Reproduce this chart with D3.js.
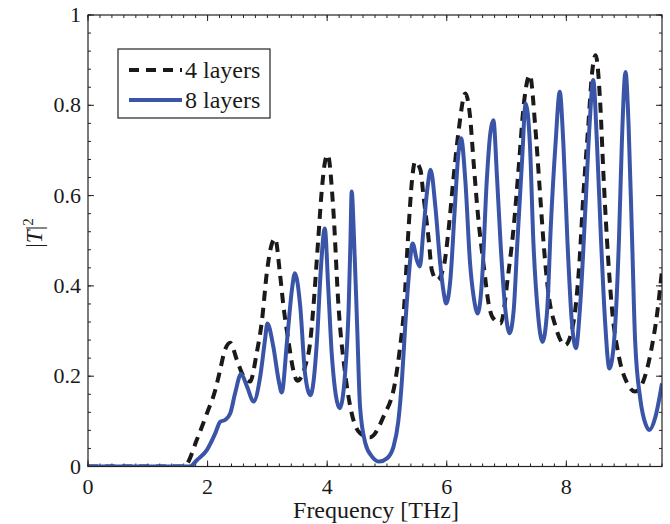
<!DOCTYPE html>
<html>
<head>
<meta charset="utf-8">
<script src="https://cdn.jsdelivr.net/npm/d3@7"></script>
<style>
  body { margin: 0; background: #fff; }
</style>
</head>
<body>
<svg id="chart" width="670" height="524" style="font-family: 'Liberation Serif', 'DejaVu Serif', serif;"></svg>
<script>
/*********************
	Data
**********************/
// |T|^2 vs frequency [THz]
var layers4 = [[0,0],[1.6,0],[1.65,0.005],[1.82,0.059],[1.99,0.118],[2.13,0.17],[2.21,0.214],[2.29,0.258],[2.38,0.274],
	[2.49,0.236],[2.6,0.2],[2.71,0.188],[2.82,0.25],[2.91,0.324],[2.99,0.428],[3.05,0.48],[3.13,0.505],[3.21,0.428],
	[3.27,0.354],[3.35,0.28],[3.44,0.21],[3.5,0.19],[3.63,0.221],[3.72,0.28],[3.77,0.354],[3.85,0.502],[3.91,0.612],
	[3.97,0.679],[4.01,0.69],[4.1,0.575],[4.19,0.354],[4.3,0.207],[4.41,0.118],[4.55,0.074],[4.72,0.065],[4.94,0.11],
	[5.14,0.19],[5.22,0.265],[5.28,0.34],[5.36,0.524],[5.42,0.635],[5.47,0.675],[5.56,0.657],[5.61,0.6],[5.7,0.5],
	[5.75,0.435],[5.84,0.413],[5.95,0.443],[6.03,0.524],[6.11,0.635],[6.2,0.745],[6.31,0.826],[6.39,0.775],[6.45,0.672],
	[6.53,0.546],[6.62,0.443],[6.7,0.361],[6.76,0.332],[6.9,0.317],[7.03,0.428],[7.12,0.531],[7.2,0.657],[7.29,0.804],
	[7.39,0.867],[7.48,0.753],[7.56,0.605],[7.62,0.494],[7.7,0.384],[7.82,0.31],[7.98,0.269],[8.12,0.32],[8.21,0.435],
	[8.29,0.612],[8.37,0.76],[8.43,0.871],[8.49,0.911],[8.57,0.797],[8.62,0.649],[8.68,0.502],[8.76,0.354],[8.88,0.243],
	[9.02,0.184],[9.15,0.166],[9.29,0.19],[9.43,0.265],[9.52,0.34],[9.6,0.435]];

var layers8 = [[0,0],[1.7,0],[1.82,0.014],[1.99,0.037],[2.13,0.074],[2.21,0.099],[2.29,0.103],[2.38,0.118],[2.46,0.162],
	[2.56,0.205],[2.66,0.177],[2.77,0.144],[2.88,0.199],[2.96,0.28],[3.0,0.317],[3.1,0.265],[3.19,0.19],[3.24,0.164],
	[3.33,0.28],[3.41,0.391],[3.46,0.428],[3.55,0.354],[3.63,0.206],[3.72,0.158],[3.83,0.28],[3.89,0.428],[3.96,0.527],
	[4.02,0.391],[4.08,0.243],[4.21,0.129],[4.3,0.206],[4.36,0.354],[4.39,0.502],[4.41,0.609],[4.45,0.502],[4.5,0.317],
	[4.55,0.132],[4.64,0.051],[4.75,0.022],[4.87,0.011],[5.0,0.018],[5.11,0.044],[5.19,0.1],[5.25,0.19],[5.3,0.3],
	[5.36,0.413],[5.43,0.494],[5.5,0.457],[5.55,0.443],[5.61,0.524],[5.68,0.62],[5.73,0.657],[5.81,0.575],[5.89,0.45],
	[5.95,0.384],[5.99,0.361],[6.06,0.413],[6.13,0.561],[6.19,0.686],[6.24,0.727],[6.31,0.635],[6.39,0.45],[6.45,0.376],
	[6.52,0.339],[6.59,0.413],[6.67,0.635],[6.73,0.74],[6.78,0.767],[6.84,0.642],[6.9,0.494],[6.98,0.347],[7.05,0.295],
	[7.12,0.347],[7.18,0.494],[7.26,0.679],[7.32,0.804],[7.39,0.716],[7.45,0.494],[7.52,0.347],[7.6,0.276],[7.68,0.347],
	[7.74,0.531],[7.82,0.716],[7.89,0.83],[7.95,0.716],[8.02,0.494],[8.09,0.324],[8.16,0.262],[8.23,0.354],[8.32,0.575],
	[8.39,0.76],[8.45,0.856],[8.51,0.723],[8.58,0.502],[8.65,0.317],[8.72,0.217],[8.8,0.28],[8.88,0.502],[8.93,0.723],
	[8.99,0.874],[9.04,0.76],[9.1,0.502],[9.15,0.28],[9.24,0.147],[9.32,0.096],[9.39,0.081],[9.49,0.11],[9.6,0.184]];

var x_ticks = [0, 2, 4, 6, 8];
var y_ticks = [0, 0.2, 0.4, 0.6, 0.8, 1];
var legend_labels = ["4 layers", "8 layers"];

/*********************
	Setup
**********************/
var margin = {left: 88, right: 8, top: 15, bottom: 57.5};
var width = 670 - margin.left - margin.right;
var height = 524 - margin.top - margin.bottom;
var text_color = "#1a1a1a";

var svg = d3.select("#chart");
var g = svg.append("g").attr("transform", "translate(" + margin.left + "," + margin.top + ")");

var x = d3.scaleLinear().domain([0, 9.6]).range([0, width]);
var y = d3.scaleLinear().domain([0, 1]).range([height, 0]);

svg.append("defs").append("clipPath").attr("id", "clip")
	.append("rect").attr("width", width).attr("height", height);

// minor + major ticks, inward, on all four sides
var x_minor = d3.range(0, 9.61, 0.2);
var y_minor = d3.range(0, 1.001, 0.04);

function drawTicks(sel, vals, len, side){
	sel.selectAll(null).data(vals).enter().append("line")
		.attr("stroke", "#222").attr("stroke-width", 1)
		.attr("x1", function(d){ return side == "b" || side == "t" ? x(d) : (side == "l" ? 0 : width); })
		.attr("x2", function(d){ return side == "b" || side == "t" ? x(d) : (side == "l" ? len : width - len); })
		.attr("y1", function(d){ return side == "l" || side == "r" ? y(d) : (side == "b" ? height : 0); })
		.attr("y2", function(d){ return side == "l" || side == "r" ? y(d) : (side == "b" ? height - len : len); });
}
var ticks_g = g.append("g");
["b", "t"].forEach(function(s){ drawTicks(ticks_g, x_minor, 3, s); drawTicks(ticks_g, x_ticks, 6, s); });
["l", "r"].forEach(function(s){ drawTicks(ticks_g, y_minor, 3, s); drawTicks(ticks_g, y_ticks, 6, s); });

// tick labels
g.selectAll(".xl").data(x_ticks).enter().append("text")
	.attr("x", function(d){ return x(d); }).attr("y", height + 27)
	.attr("text-anchor", "middle").attr("fill", text_color).style("font-size", "22px")
	.text(function(d){ return d; });

g.selectAll(".yl").data(y_ticks).enter().append("text")
	.attr("x", -7).attr("y", function(d){ return y(d) + 7; })
	.attr("text-anchor", "end").attr("fill", text_color).style("font-size", "22px")
	.text(function(d){ return d; });

// axis titles
g.append("text").attr("x", width / 2 + 1).attr("y", height + 51)
	.attr("text-anchor", "middle").attr("fill", text_color).style("font-size", "24px")
	.text("Frequency [THz]");

var ylab = svg.append("text").attr("transform", "translate(42,233) rotate(-90)")
	.attr("text-anchor", "middle").attr("fill", text_color).style("font-size", "23px");
ylab.append("tspan").text("|");
ylab.append("tspan").style("font-style", "italic").text("T");
ylab.append("tspan").text("|");
ylab.append("tspan").attr("dy", -9).style("font-size", "15px").text("2");

/*********************
	Lines
**********************/
var line = d3.line()
	.x(function(d){ return x(d[0]); })
	.y(function(d){ return y(d[1]); })
	.curve(d3.curveMonotoneX);

var plot = g.append("g").attr("clip-path", "url(#clip)");

plot.append("path").datum(layers4)
	.attr("fill", "none").attr("stroke", "#1a1a1a").attr("stroke-width", 4)
	.attr("stroke-dasharray", "10,7")
	.attr("d", line);

plot.append("path").datum(layers8)
	.attr("fill", "none").attr("stroke", "#3a55a8").attr("stroke-width", 4)
	.attr("d", line);

// frame
g.append("rect").attr("width", width).attr("height", height)
	.attr("fill", "none").attr("stroke", "#222").attr("stroke-width", 1.2);

/*********************
	Legend
**********************/
var leg = svg.append("g").attr("transform", "translate(118,49)");
leg.append("rect").attr("width", 152).attr("height", 69)
	.attr("fill", "#fff").attr("stroke", "#222").attr("stroke-width", 1.2);

var leg_styles = [{color: "#1a1a1a", dash: "10,7"}, {color: "#3a55a8", dash: null}];
legend_labels.forEach(function(lbl, i){
	var ly = 21 + i * 30;
	leg.append("line").attr("x1", 11).attr("x2", 64).attr("y1", ly).attr("y2", ly)
		.attr("stroke", leg_styles[i].color).attr("stroke-width", 4)
		.attr("stroke-dasharray", leg_styles[i].dash);
	leg.append("text").attr("x", 67).attr("y", ly + 8)
		.attr("fill", text_color).style("font-size", "24px").text(lbl);
});
</script>
</body>
</html>
